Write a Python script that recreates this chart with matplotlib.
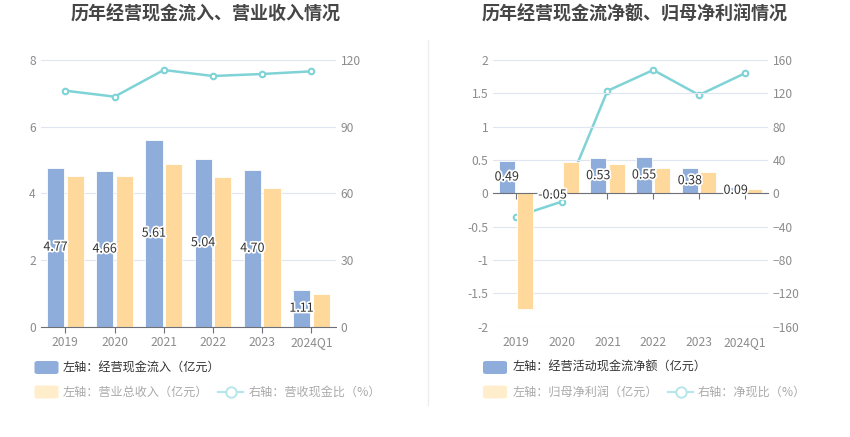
import matplotlib.pyplot as plt
import numpy as np
from matplotlib.patches import FancyBboxPatch
from matplotlib.lines import Line2D
import matplotlib.patheffects as pe

plt.rcParams['font.family'] = ['Noto Sans CJK SC', 'DejaVu Sans']

# data
years = ['2019', '2020', '2021', '2022', '2023', '2024Q1']
cash_inflow = [4.77, 4.66, 5.61, 5.04, 4.70, 1.11]
revenue = [4.52, 4.52, 4.88, 4.48, 4.15, 0.98]
cash_rev_ratio = [106.2, 103.5, 115.5, 112.8, 113.7, 114.9]

net_cash_flow = [0.49, -0.05, 0.53, 0.55, 0.38, 0.09]
net_profit = [-1.735, 0.475, 0.435, 0.375, 0.325, 0.07]
net_cash_ratio = [-28, -10, 123, 148, 118, 144]

BLUE = '#8eaddb'
ORANGE = '#ffd99c'
TEAL = '#7fd3d6'
GRID = '#e0e6f1'
AXIS = '#6e7079'
TICK = '#8c8c8c'

W, H = 850, 437
fig = plt.figure(figsize=(W / 100, H / 100), dpi=100)


def fx(px):
    return px / W


def fy(py):
    return 1 - py / H


def style_axes(ax, ax2):
    for a in (ax, ax2):
        for s in a.spines.values():
            s.set_visible(False)
        a.tick_params(axis='y', length=0, labelsize=8.7, colors=TICK)
    ax.grid(axis='y', color=GRID, linewidth=0.8)
    ax.set_axisbelow(True)
    ax.set_zorder(ax2.get_zorder() + 1)
    ax.patch.set_visible(False)


def draw_bars(ax, left_vals, right_vals):
    x = np.arange(len(years))
    w = 0.35
    ax.bar(x - 0.2, left_vals, w, color=BLUE, edgecolor='white', linewidth=0.6, zorder=2)
    ax.bar(x + 0.2, right_vals, w, color=ORANGE, edgecolor='white', linewidth=0.6, zorder=2)
    for xi, v in zip(x, left_vals):
        ax.text(xi - 0.2, v / 2, f'{v:.2f}', ha='center', va='center', fontsize=9,
                color='#333333', zorder=4,
                path_effects=[pe.withStroke(linewidth=2.5, foreground='white')])
    ax.set_xlim(-0.5, len(years) - 0.5)
    ax.set_xticks(x)


# ---- left chart ----
ax1 = fig.add_axes([fx(40.7), fy(326.7), fx(295.3), 266.7 / H])
ax1r = ax1.twinx()
style_axes(ax1, ax1r)
draw_bars(ax1, cash_inflow, revenue)
ax1.set_ylim(0, 8)
ax1.set_yticks([0, 2, 4, 6, 8])
ax1r.set_ylim(0, 120)
ax1r.set_yticks([0, 30, 60, 90, 120])
ax1r.plot(np.arange(len(years)), cash_rev_ratio, color=TEAL, linewidth=1.8,
          marker='o', markersize=4, markerfacecolor='white', markeredgecolor=TEAL,
          markeredgewidth=1.5, zorder=3)
ax1.spines['bottom'].set_visible(True)
ax1.spines['bottom'].set_color(AXIS)
ax1.tick_params(axis='x', length=4, color=AXIS, labelsize=8.7, labelcolor=TICK, pad=3)
ax1.set_xticklabels(years)
ax1.set_ylim(0, 8)
fig.text(fx(206), fy(14), '历年经营现金流入、营业收入情况', ha='center', va='center',
         fontsize=13, fontweight='bold', color='#464646')

# ---- right chart ----
ax2 = fig.add_axes([fx(493), fy(326.7), fx(274.7), 266.7 / H])
ax2r = ax2.twinx()
style_axes(ax2, ax2r)
draw_bars(ax2, net_cash_flow, net_profit)
ax2.set_ylim(-2, 2)
ax2.set_yticks([-2, -1.5, -1, -0.5, 0, 0.5, 1, 1.5, 2])
ax2.set_yticklabels(['-2', '-1.5', '-1', '-0.5', '0', '0.5', '1', '1.5', '2'])
ax2r.set_ylim(-160, 160)
ax2r.set_yticks([-160, -120, -80, -40, 0, 40, 80, 120, 160])
ax2r.plot(np.arange(len(years)), net_cash_ratio, color=TEAL, linewidth=1.8,
          marker='o', markersize=4, markerfacecolor='white', markeredgecolor=TEAL,
          markeredgewidth=1.5, zorder=3)
ax2.spines['bottom'].set_visible(True)
ax2.spines['bottom'].set_position(('data', 0))
ax2.spines['bottom'].set_color(AXIS)
ax2.tick_params(axis='x', length=4, color=AXIS, labelbottom=False)
sec = ax2.secondary_xaxis(0.0)
sec.set_xticks(np.arange(len(years)))
sec.set_xticklabels(years)
sec.tick_params(axis='x', length=0, labelsize=8.7, labelcolor=TICK, pad=7)
for s in sec.spines.values():
    s.set_visible(False)
fig.text(fx(635), fy(14), '历年经营现金流净额、归母净利润情况', ha='center', va='center',
         fontsize=13, fontweight='bold', color='#464646')

# divider
fig.add_artist(Line2D([fx(428), fx(428)], [fy(40), fy(405)], color='#eeeeee', linewidth=1))


# ---- legends ----
def legend_patch(x0, yc, color):
    fig.add_artist(FancyBboxPatch((fx(x0), fy(yc + 6.5)), fx(24), 13 / H,
                                  boxstyle='round,pad=0,rounding_size=0.004',
                                  transform=fig.transFigure, facecolor=color,
                                  edgecolor='none'))


def legend_line(x0, yc):
    fig.add_artist(Line2D([fx(x0), fx(x0 + 25)], [fy(yc), fy(yc)], color='#b7e6e8',
                          linewidth=1.6))
    fig.add_artist(Line2D([fx(x0 + 12.5)], [fy(yc)], color='#b7e6e8', marker='o',
                          markersize=7.5, markerfacecolor='white', markeredgewidth=1.4))


def legend_text(x0, yc, s, dark):
    fig.text(fx(x0), fy(yc), s, ha='left', va='center', fontsize=8.7,
             color='#333333' if dark else '#aaaaaa')


legend_patch(34.5, 367.5, BLUE)
legend_text(63, 367.5, '左轴：经营现金流入（亿元）', True)
legend_patch(34.5, 392, '#ffedcc')
legend_text(63, 392, '左轴：营业总收入（亿元）', False)
legend_line(218, 392)
legend_text(249, 392, '右轴：营收现金比（%）', False)

legend_patch(483, 367.5, BLUE)
legend_text(513, 367.5, '左轴：经营活动现金流净额（亿元）', True)
legend_patch(483, 392, '#ffedcc')
legend_text(513, 392, '左轴：归母净利润（亿元）', False)
legend_line(668, 392)
legend_text(698, 392, '右轴：净现比（%）', False)

fig.savefig('out.png', dpi=100)
